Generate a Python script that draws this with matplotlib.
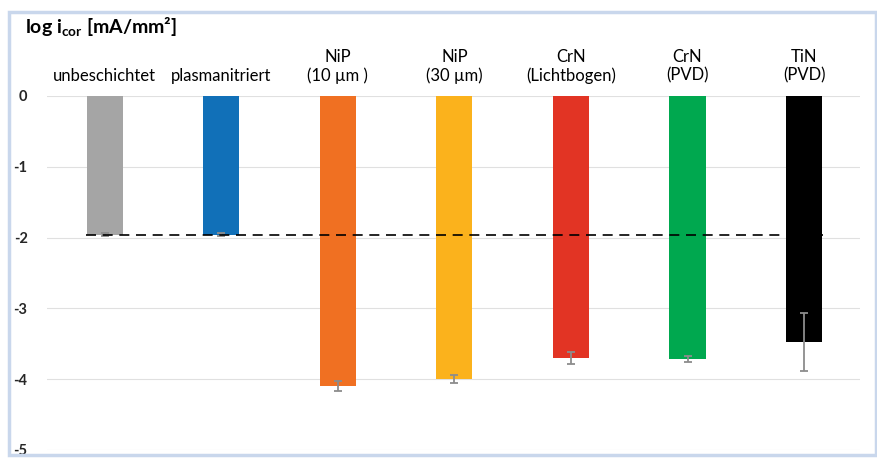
import matplotlib.pyplot as plt
import matplotlib.patches as patches
import numpy as np

plt.rcParams['font.family'] = ['Lato', 'DejaVu Sans']
plt.rcParams['mathtext.fontset'] = 'custom'
plt.rcParams['mathtext.rm'] = 'Lato'
plt.rcParams['mathtext.bf'] = 'Lato:bold'

# data
labels = ['unbeschichtet', 'plasmanitriert', 'NiP\n(10 µm )', 'NiP\n(30 µm)',
          'CrN\n(Lichtbogen)', 'CrN\n(PVD)', 'TiN\n(PVD)']
values = [-1.96, -1.96, -4.10, -4.00, -3.70, -3.72, -3.47]
errors = [0.02, 0.02, 0.07, 0.06, 0.08, 0.04, 0.41]
colors = ['#a5a5a5', '#1170b8', '#f07022', '#fbb21c', '#e23424', '#00a84f', '#000000']
reference_level = -1.96
yticks = [0, -1, -2, -3, -4, -5]

fig = plt.figure(figsize=(8.78, 4.61), dpi=100)
ax = fig.add_axes([0.0535, 0.024, 0.926, 0.768])

x = np.arange(len(values))
ax.bar(x, values, width=0.31, color=colors, zorder=2)
ax.errorbar(x, values, yerr=errors, fmt='none', ecolor='#8c8c8c',
            elinewidth=1.3, capsize=3, capthick=1.3, zorder=3)

# dashed reference line
ax.plot([-0.16, 6.16], [reference_level, reference_level], color='black',
        linestyle=(0, (6, 4)), linewidth=1.2, zorder=4)

ax.set_xlim(-0.496, 6.48)
ax.set_ylim(-5, 0)
ax.set_yticks(yticks)
ax.set_yticklabels([str(t) for t in yticks], fontsize=10.5, fontweight='bold', color='#262626')
ax.set_xticks([])
ax.grid(axis='y', color='#e0e0e0', linewidth=0.8, zorder=0)
ax.tick_params(axis='y', length=0, pad=14)
for s in ax.spines.values():
    s.set_visible(False)

# category labels above the bars
for xi, lab in zip(x, labels):
    ax.text(xi, 0.17, lab, ha='center', va='bottom', fontsize=12,
            linespacing=1.2, color='#000000', clip_on=False)

fig.text(25 / 878, 1 - 27 / 461, r'log i$_{\mathbf{cor}}$ [mA/mm²]',
         fontsize=14, fontweight='bold', ha='left', va='center')

# light blue frame around the figure
fig.patches.append(patches.Rectangle((9 / 878, 6 / 461), 867 / 878, 443 / 461,
                                     transform=fig.transFigure, fill=False,
                                     edgecolor='#c9d7ec', linewidth=2.5))

fig.savefig('out.png', dpi=100)
